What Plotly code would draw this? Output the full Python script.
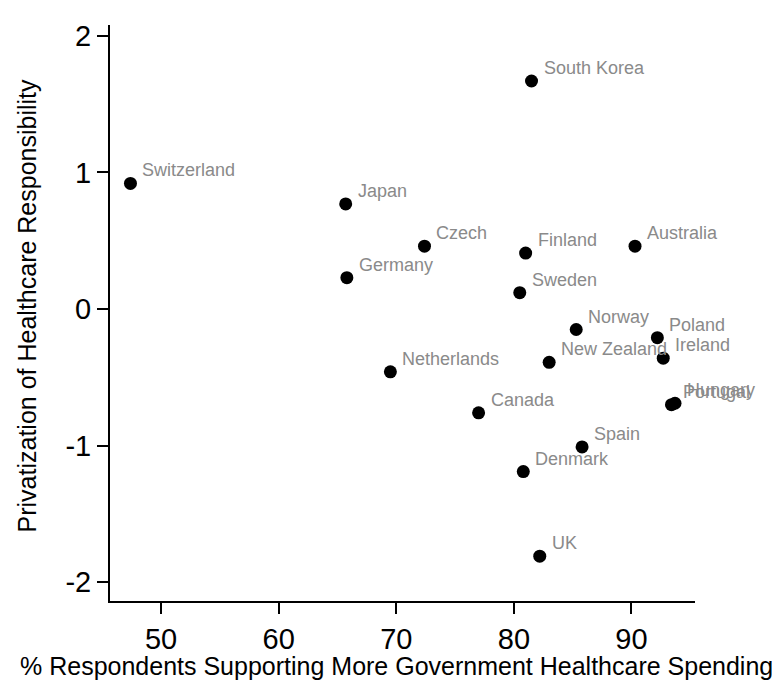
import plotly.graph_objects as go

countries = ["Switzerland", "Japan", "Germany", "South Korea", "Czech", "Finland",
             "Australia", "Sweden", "Norway", "Poland", "Ireland", "New Zealand",
             "Netherlands", "Hungary", "Portugal", "Canada", "Spain", "Denmark", "UK"]
support_pct = [47.4, 65.7, 65.8, 81.5, 72.4, 81.0,
               90.3, 80.5, 85.3, 92.2, 92.7, 83.0,
               69.5, 93.7, 93.4, 77.0, 85.8, 80.8, 82.2]
privatization = [0.92, 0.77, 0.23, 1.67, 0.46, 0.41,
                 0.46, 0.12, -0.15, -0.21, -0.36, -0.39,
                 -0.46, -0.69, -0.70, -0.76, -1.01, -1.19, -1.81]

x_ticks = [50, 60, 70, 80, 90]
y_ticks = [-2, -1, 0, 1, 2]
y_ticktext = ["-2", "-1", "0", "1", "2"]

x_title = "% Respondents Supporting More Government Healthcare Spending"
y_title = "Privatization of Healthcare Responsibility"

FONT = "Liberation Sans, Arial, Helvetica, sans-serif"

fig = go.Figure()
fig.add_trace(go.Scatter(
    x=support_pct, y=privatization, mode="markers",
    marker=dict(size=13, color="black", line=dict(width=0)),
    hoverinfo="text", text=countries, showlegend=False,
))

for name, xv, yv in zip(countries, support_pct, privatization):
    fig.add_annotation(
        x=xv, y=yv, text=name, showarrow=False,
        xanchor="left", yanchor="middle", xshift=10, yshift=13,
        font=dict(family=FONT, size=18, color="#8a8a8a"),
    )

# axis titles
fig.add_annotation(
    xref="paper", yref="paper", x=-0.157, y=-0.112, text=x_title,
    showarrow=False, xanchor="left", yanchor="middle",
    font=dict(family=FONT, size=25, color="black"),
)
fig.add_annotation(
    xref="paper", yref="paper", x=-0.142, y=0.513, text=y_title,
    showarrow=False, xanchor="center", yanchor="middle", textangle=-90,
    font=dict(family=FONT, size=25, color="black"),
)

axis_common = dict(
    showgrid=False, zeroline=False, showline=True, linecolor="black",
    linewidth=2, ticks="outside", ticklen=11, tickwidth=2, tickcolor="black",
    tickfont=dict(family=FONT, size=29, color="black"),
)

fig.update_layout(
    width=780, height=686,
    margin=dict(l=102, r=93, t=12, b=93),
    paper_bgcolor="white", plot_bgcolor="white",
    xaxis=dict(range=[45.66, 95.4], tickvals=x_ticks, **axis_common),
    yaxis=dict(range=[-2.138, 2.08], tickvals=y_ticks, ticktext=y_ticktext,
               **axis_common),
)

fig.write_html("out.html")
